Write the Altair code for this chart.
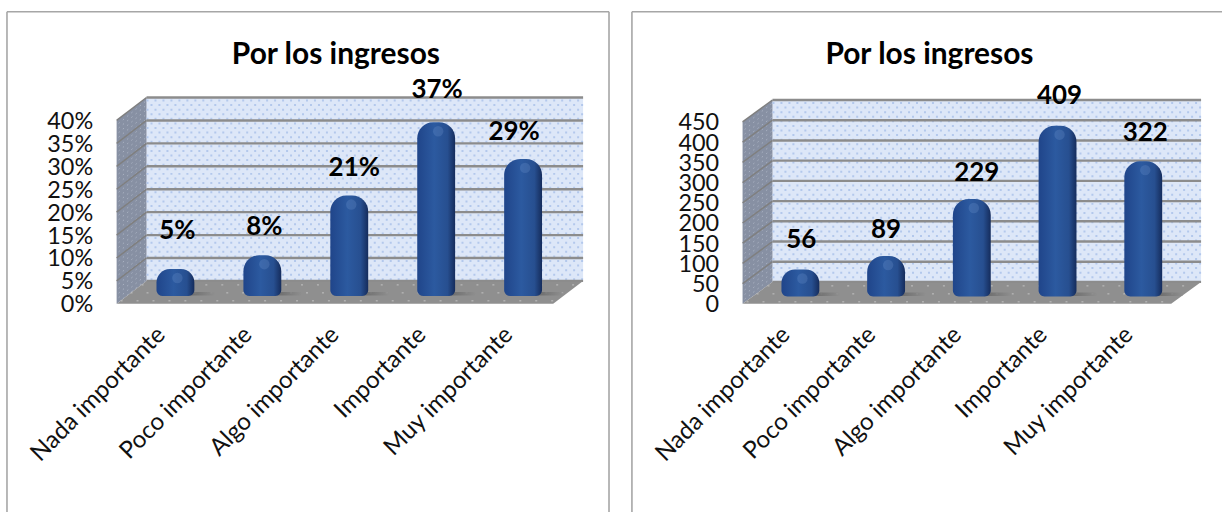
import altair as alt
import pandas as pd

categories = ["Nada importante", "Poco importante", "Algo importante", "Importante", "Muy importante"]
share_values = [0.05, 0.08, 0.21, 0.37, 0.29]
count_values = [56, 89, 229, 409, 322]
share_ticks = [0, 0.05, 0.10, 0.15, 0.20, 0.25, 0.30, 0.35, 0.40]
count_ticks = [0, 50, 100, 150, 200, 250, 300, 350, 400, 450]
chart_title = "Por los ingresos"

FONT = "Lato"
CYLINDER = alt.Gradient(
    gradient="linear", x1=0, x2=1, y1=0, y2=0,
    stops=[
        alt.GradientStop(offset=0, color="#20458a"),
        alt.GradientStop(offset=0.45, color="#2c5aa0"),
        alt.GradientStop(offset=0.8, color="#274f90"),
        alt.GradientStop(offset=1, color="#152c5c"),
    ],
)
FLOOR_SHADOW = alt.Gradient(
    gradient="linear", x1=0, x2=1, y1=0, y2=0,
    stops=[
        alt.GradientStop(offset=0.4, color="#555555"),
        alt.GradientStop(offset=1, color="#8f8f8f"),
    ],
)


def rules(rows, **mark):
    return alt.Chart(alt.Data(values=rows)).mark_rule(**mark).encode(
        x=alt.X("x:Q", scale=None, axis=None),
        x2="x2:Q",
        y=alt.Y("y:Q", scale=None, axis=None),
        y2="y2:Q",
    )


def polygon(rows, color):
    return alt.Chart(alt.Data(values=rows)).mark_area(color=color, opacity=1).encode(
        x=alt.X("x:Q", scale=None, axis=None),
        y=alt.Y("y:Q", scale=None, axis=None),
        y2="y2:Q",
    )


def panel(values, ticks, wall, zero, first_center, step_x, tick_format, nudges, box, width, right_border, title_x):
    # box: front-left x, back-left x, back-right x, in panel pixels
    fx, bx, rx = box
    depth = bx - fx
    front_right = rx - depth
    back_top, back_bottom = wall
    front_bottom = 293
    lift = front_bottom - back_bottom
    vmax = ticks[-1]

    table = pd.DataFrame({"category": categories, "value": values})
    table["base"] = -0.022 * vmax
    tick_table = pd.DataFrame({"tick": ticks})

    layers = []

    # Frame: top and sides only, the bottom edge falls outside the page.
    frame = [{"x": 0, "x2": width, "y": 0, "y2": 0}, {"x": 0, "x2": 0, "y": 0, "y2": 502}]
    if right_border:
        frame.append({"x": width, "x2": width, "y": 0, "y2": 502})
    layers.append(rules(frame, color="#a6a6a6", strokeWidth=1.6))

    # Walls and floor of the 3D box.
    layers.append(polygon([
        {"x": bx, "y": back_top, "y2": back_bottom},
        {"x": rx, "y": back_top, "y2": back_bottom},
    ], "#dde7f8"))
    layers.append(polygon([
        {"x": fx, "y": back_top + lift, "y2": front_bottom},
        {"x": bx, "y": back_top, "y2": back_bottom},
    ], "#8790a3"))
    layers.append(polygon([
        {"x": fx, "y": front_bottom, "y2": front_bottom},
        {"x": bx, "y": back_bottom, "y2": front_bottom},
        {"x": front_right, "y": back_bottom, "y2": front_bottom},
        {"x": rx, "y": back_bottom, "y2": back_bottom},
    ], "#8f8f8f"))

    # Dotted wallpaper texture, drawn as dashed rows.
    rows_a, rows_b, side_rows = [], [], []
    y = back_top + 3
    i = 0
    while y < back_bottom - 1:
        (rows_a if i % 2 == 0 else rows_b).append({"x": bx, "x2": rx, "y": y, "y2": y})
        side_rows.append({"x": fx + 2, "x2": bx, "y": y + lift, "y2": y})
        y += 4.6
        i += 1
    layers.append(rules(rows_a, color="#b3c8ec", strokeWidth=2, strokeDash=[2, 6]))
    layers.append(rules(rows_b, color="#b3c8ec", strokeWidth=2, strokeDash=[2, 6], strokeDashOffset=4))
    layers.append(rules(side_rows, color="#aab2c2", strokeWidth=1, strokeDash=[1.5, 4]))
    floor_rows = [
        {"x": bx - 5, "x2": rx - 5, "y": back_bottom + 4, "y2": back_bottom + 4},
        {"x": bx - 16, "x2": rx - 16, "y": back_bottom + 12, "y2": back_bottom + 12},
        {"x": bx - 26, "x2": rx - 26, "y": back_bottom + 20, "y2": back_bottom + 20},
    ]
    layers.append(rules(floor_rows, color="#c4c4c4", strokeWidth=1, strokeDash=[2, 14]))

    # Receding gridlines on the side wall.
    step = (back_bottom - back_top) / (len(ticks) - 1)
    layers.append(rules([
        {"x": fx, "x2": bx, "y": back_top + k * step + lift, "y2": back_top + k * step}
        for k in range(len(ticks) - 1)
    ], color="#7f7f7f", strokeWidth=1.5))

    # Back-wall gridlines carry the value axis; labels sit on the front plane.
    y_axis = alt.Axis(
        values=ticks, format=tick_format, title=None, domain=False, ticks=False, grid=False,
        labelFont=FONT, labelFontSize=23.5, labelColor="#111111", labelPadding=0,
        labelOverlap=False, labelFlush=False, labelOffset=lift + 1, offset=-(fx - 24),
    )
    layers.append(
        alt.Chart(tick_table).mark_rule(color="#8c8c8c", strokeWidth=2.4).encode(
            x=alt.value(bx),
            x2=alt.value(rx),
            y=alt.Y("tick:Q", scale=alt.Scale(domain=[0, vmax], range=[back_bottom, back_top]), axis=y_axis),
        )
    )

    # Bars, with their own scale set on the middle of the floor depth.
    bar_y = alt.Scale(domain=[0, vmax], range=[zero, zero - 184])
    half = step_x / 2
    band = alt.Scale(domain=categories, range=[first_center - half, first_center + half * 9], paddingInner=0, paddingOuter=0)
    x_axis = alt.Axis(
        title=None, domain=False, ticks=False, labelAngle=-45, labelAlign="right", labelBaseline="middle",
        labelFont=FONT, labelFontSize=24.2, labelColor="#111111", labelPadding=8, labelOverlap=False,
        labelLimit=400, labelOffset=-14, offset=-(502 - 312),
    )
    base = alt.Chart(table)
    y_val = alt.Y("value:Q", scale=bar_y, axis=None)
    layers.append(
        base.mark_bar(size=56, color=FLOOR_SHADOW, xOffset=12, cornerRadius=5, opacity=0.8).encode(
            x=alt.X("category:N", scale=band, sort=categories, axis=None),
            y=alt.Y(datum=0, scale=bar_y, axis=None),
            y2=alt.Y2(datum=-0.02 * vmax),
        )
    )
    layers.append(
        base.mark_bar(
            size=38, color=CYLINDER, cornerRadiusTopLeft=16, cornerRadiusTopRight=16,
            cornerRadiusBottomLeft=6, cornerRadiusBottomRight=6,
        ).encode(
            x=alt.X("category:N", scale=band, sort=categories, axis=x_axis),
            y=y_val,
            y2="base:Q",
        )
    )
    layers.append(
        base.mark_circle(size=110, color="#7fa3dc", opacity=0.22, xOffset=2, yOffset=9).encode(
            x=alt.X("category:N", scale=band, sort=categories, axis=None),
            y=y_val,
        )
    )

    # Data labels, each with its own nudge away from the bar top.
    for k, (dx, dy) in enumerate(nudges):
        layers.append(
            alt.Chart(table.iloc[[k]]).mark_text(
                font=FONT, fontWeight="bold", fontSize=26, color="#000000", dx=dx, dy=dy,
            ).encode(
                x=alt.X("category:N", scale=band, sort=categories, axis=None),
                y=y_val,
                text=alt.Text("value:Q", format=tick_format),
            )
        )

    # Chart heading.
    layers.append(
        alt.Chart(alt.Data(values=[{"t": chart_title}])).mark_text(
            font=FONT, fontWeight="bold", fontSize=30, color="#000000",
        ).encode(x=alt.value(title_x), y=alt.value(43), text="t:N")
    )

    return alt.layer(*layers).resolve_scale(x="independent", y="independent").properties(width=width, height=502)


left = panel(
    share_values, share_ticks, (86, 270), 281, 169, 87.2, ".0%",
    [(2, -38), (2, -28), (5, -28), (1, -32), (-9, -27)],
    (110, 140, 578), 604, True, 330,
)
right = panel(
    count_values, count_ticks, (88.5, 271), 281.5, 169, 86, "d",
    [(1, -30), (0, -26), (5, -26), (2, -30), (2, -28)],
    (111, 141, 571), 592, False, 298.5,
)

chart = alt.hconcat(left, right, spacing=21).properties(
    padding={"left": 6, "top": 10, "right": 0, "bottom": 0}, background="#ffffff"
).configure_view(stroke=None)

chart.save("out.html", embed_options={"renderer": "svg", "actions": False})
